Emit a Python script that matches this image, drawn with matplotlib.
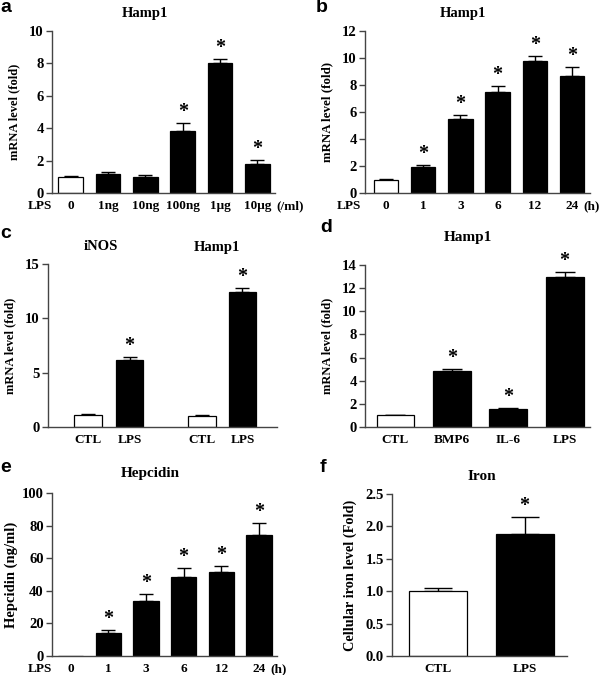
import matplotlib
matplotlib.use('Agg')
import matplotlib.pyplot as plt

# data
a_labels = ['0', '1ng', '10ng', '100ng', '1\u03bcg', '10\u03bcg']
a_vals = [1.0, 1.18, 1.0, 3.8, 8.0, 1.8]
a_errs = [0.05, 0.12, 0.12, 0.52, 0.3, 0.25]
a_star = [False, False, False, True, True, True]

b_labels = ['0', '1', '3', '6', '12', '24']
b_vals = [1.0, 1.95, 5.5, 7.45, 9.8, 8.65]
b_errs = [0.04, 0.12, 0.3, 0.5, 0.35, 0.65]
b_star = [False, True, True, True, True, True]

c_labels = ['CTL', 'LPS', 'CTL', 'LPS']
c_pos = [0, 1, 2.74, 3.71]
c_vals = [1.1, 6.2, 1.0, 12.4]
c_errs = [0.1, 0.28, 0.1, 0.42]
c_star = [False, True, False, True]

d_labels = ['CTL', 'BMP6', 'IL-6', 'LPS']
d_vals = [1.0, 4.8, 1.55, 13.0]
d_errs = [0.04, 0.2, 0.08, 0.38]
d_star = [False, True, True, True]

e_labels = ['0', '1', '3', '6', '12', '24']
e_vals = [0, 14.2, 33.8, 48.2, 51.7, 74.5]
e_errs = [0, 1.8, 4.3, 5.5, 3.5, 6.8]
e_star = [False, True, True, True, True, True]

f_labels = ['CTL', 'LPS']
f_vals = [1.0, 1.88]
f_errs = [0.05, 0.27]
f_star = [False, True]

W, H = 601, 675
plt.rcParams['font.family'] = 'Liberation Serif'
plt.rcParams['font.weight'] = 'bold'

fig = plt.figure(figsize=(W / 100, H / 100), dpi=100)


def make_axes(x0, ytop, x1, ybot):
   return fig.add_axes([x0 / W, 1 - ybot / H, (x1 - x0) / W, (ybot - ytop) / H])


def draw_bars(ax, pos, vals, errs, stars, labels, colors, width, capsize, xlim, ylim, yticks,
              ylabel, ylsize=9, ylpad=6):
   ax.bar(pos, vals, width=width, color=colors, edgecolor='black', linewidth=0.9, zorder=2)
   for x, v, e, s in zip(pos, vals, errs, stars):
      if v > 0:
         ax.errorbar(x, v, yerr=[[0], [e]], fmt='none', ecolor='black', elinewidth=1,
                     capsize=capsize, capthick=1, zorder=1)
      if s:
         ax.annotate('*', xy=(x, v + e), xytext=(0, 11), textcoords='offset pixels',
                     ha='center', va='center', fontsize=14.5, fontweight='bold')
   ax.set_xlim(xlim)
   ax.set_ylim(ylim)
   ax.set_yticks(yticks)
   ax.set_xticks(pos)
   ax.set_xticklabels(labels)
   ax.tick_params(axis='x', length=0, pad=5, labelsize=9.5)
   ax.tick_params(axis='y', length=4, width=1, labelsize=10.5, pad=2, color='#444444')
   for sp in ['top', 'right']:
      ax.spines[sp].set_visible(False)
   for sp in ['left', 'bottom']:
      ax.spines[sp].set_linewidth(1)
      ax.spines[sp].set_color('#444444')
   ax.set_ylabel(ylabel, fontsize=ylsize, fontweight='bold', labelpad=ylpad)


def side_text(ax, x, text, ha='center'):
   ax.annotate(text, xy=(x, 0), xycoords=ax.get_xaxis_transform(), xytext=(0, -5),
               textcoords='offset points', ha=ha, va='top', fontsize=9.5, fontweight='bold',
               annotation_clip=False)


def title(ax, x, dy, text, size=11, coords='axes fraction'):
   ax.annotate(text, xy=(x, 1), xycoords=coords, xytext=(0, dy),
               textcoords='offset pixels', ha='center', va='center', fontsize=size,
               fontweight='bold', annotation_clip=False)


def letter(x, y, text):
   fig.text(x / W, 1 - y / H, text, fontsize=14, fontweight='bold', family='Liberation Sans',
            ha='left', va='center')


six = ['white'] + ['black'] * 5

# panel a
axa = make_axes(52, 31, 275, 193)
draw_bars(axa, range(6), a_vals, a_errs, a_star, a_labels, six, 0.66, 5, (-0.5, 5.47), (0, 10),
          [0, 2, 4, 6, 8, 10], 'mRNA level (fold)')
side_text(axa, -0.82, 'LPS')
side_text(axa, 5.52, '(/ml)', ha='left')
title(axa, 0.417, 18, 'Hamp1', 10.5)
letter(0, 8, 'a')

# panel b
axb = make_axes(365, 31, 590, 193)
draw_bars(axb, range(6), b_vals, b_errs, b_star, b_labels, six, 0.66, 5, (-0.56, 5.48), (0, 12),
          [0, 2, 4, 6, 8, 10, 12], 'mRNA level (fold)', 9.3)
side_text(axb, -1.0, 'LPS')
side_text(axb, 5.3, '(h)', ha='left')
title(axb, 0.436, 18, 'Hamp1', 10.5)
letter(316, 8, 'b')

# panel c
axc = make_axes(48, 264, 277, 427)
draw_bars(axc, c_pos, c_vals, c_errs, c_star, c_labels, ['white', 'black', 'white', 'black'],
          0.66, 5, (-0.96, 4.54), (0, 15), [0, 5, 10, 15], 'mRNA level (fold)')
title(axc, 0.3, 17, 'iNOS', 10.5, ('data', 'axes fraction'))
title(axc, 3.1, 17, 'Hamp1', 10.5, ('data', 'axes fraction'))
letter(0, 234, 'c')

# panel d
axd = make_axes(365, 265, 590, 427)
draw_bars(axd, range(4), d_vals, d_errs, d_star, d_labels, ['white'] + ['black'] * 3, 0.67, 7,
          (-0.54, 3.45), (0, 14), [0, 2, 4, 6, 8, 10, 12, 14], 'mRNA level (fold)')
title(axd, 0.458, 28, 'Hamp1', 11)
letter(320, 227, 'd')

# panel e
axe = make_axes(52, 493, 277, 656)
draw_bars(axe, range(6), e_vals, e_errs, e_star, e_labels, six, 0.67, 5, (-0.5, 5.48), (0, 100),
          [0, 20, 40, 60, 80, 100], 'Hepcidin (ng/ml)', 10.5, 3)
side_text(axe, -0.82, 'LPS')
side_text(axe, 5.3, '(h)', ha='left')
title(axe, 0.436, 20, 'Hepcidin', 11)
letter(0, 468, 'e')

# panel f
axf = make_axes(392, 494, 567, 656)
draw_bars(axf, range(2), f_vals, f_errs, f_star, f_labels, ['white', 'black'], 0.67, 10,
          (-0.53, 1.49), (0, 2.5), [0, 0.5, 1.0, 1.5, 2.0, 2.5], 'Cellular iron level (Fold)', 10.3)
axf.set_yticklabels(['0.0', '0.5', '1.0', '1.5', '2.0', '2.5'])
title(axf, 0.514, 17, 'Iron', 11)
letter(320, 468, 'f')

fig.savefig('out.png', dpi=100)
